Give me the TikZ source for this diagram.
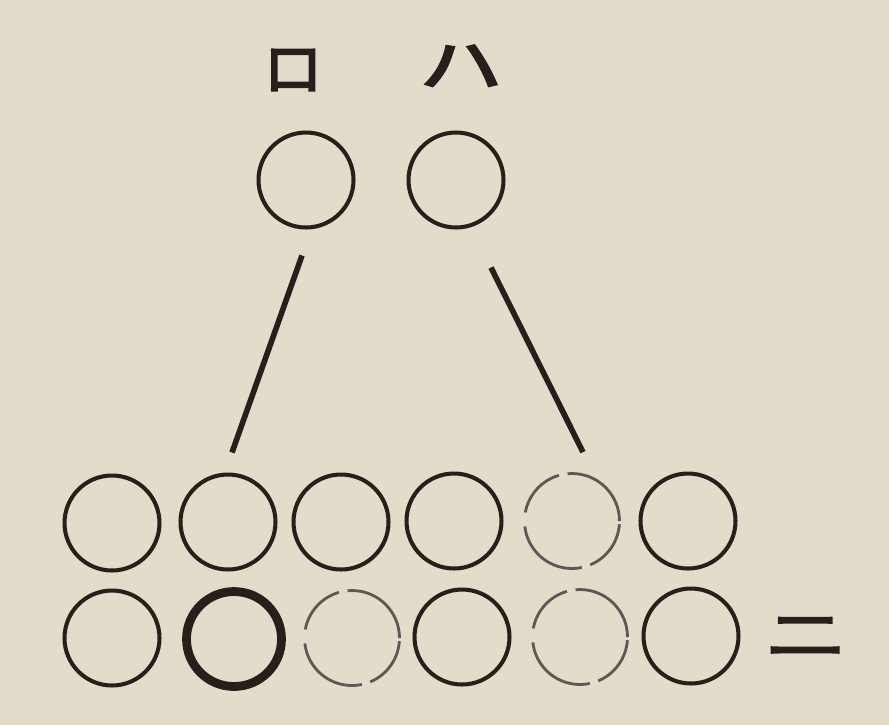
\documentclass[tikz,border=0pt]{standalone}
\usepackage{fontspec}
\newfontfamily\jp{Noto Sans CJK JP}[FakeBold=3]
\definecolor{paper}{RGB}{227,220,202}
\definecolor{ink}{RGB}{38,32,28}
\begin{document}
\begin{tikzpicture}[x=0.02cm,y=-0.02cm,
  ring/.style={draw=ink,circle,line width=2.3pt,minimum size=1.9cm,inner sep=0pt},
  heavy/.style={ring,line width=5pt},
  faint/.style={ring,draw=ink!75,line width=1.6pt,dash pattern=on 45pt off 5pt on 30pt off 8pt},
  wire/.style={draw=ink,line width=3.2pt},
  kana/.style={font=\jp\fontsize{34}{34}\selectfont,text=ink},
  widekana/.style={kana,xscale=1.4}]
  \fill[paper] (0,0) rectangle (889,725);
  \useasboundingbox (0,0) rectangle (889,725);
  % top pair
  \node[kana] (lro) at (293,70) {ロ};
  \node[widekana] (lha) at (461,66) {ハ};
  \node[ring] (ro) at (306,180) {};
  \node[ring] (ha) at (456,180) {};
  % first row
  \node[ring] (a1) at (112,523) {};
  \node[ring] (a2) at (228,522) {};
  \node[ring] (a3) at (341,522) {};
  \node[ring] (a4) at (454,521) {};
  \node[faint] (a5) at (572,521) {};
  \node[ring] (a6) at (688,521) {};
  % second row
  \node[ring] (b1) at (112,638) {};
  \node[heavy] (b2) at (234,639) {};
  \node[faint] (b3) at (352,638) {};
  \node[ring] (b4) at (462,637) {};
  \node[faint] (b5) at (580,637) {};
  \node[ring] (b6) at (691,636) {};
  \node[widekana] (lni) at (806,637) {ニ};
  % links
  \draw[wire] ([xshift=-0.08cm,yshift=-0.52cm]ro.south) -- ([xshift=0.08cm,yshift=0.4cm]a2.north);
  \draw[wire] ([xshift=0.7cm,yshift=-0.76cm]ha.south) -- ([xshift=0.22cm,yshift=0.4cm]a5.north);
\end{tikzpicture}
\end{document}
